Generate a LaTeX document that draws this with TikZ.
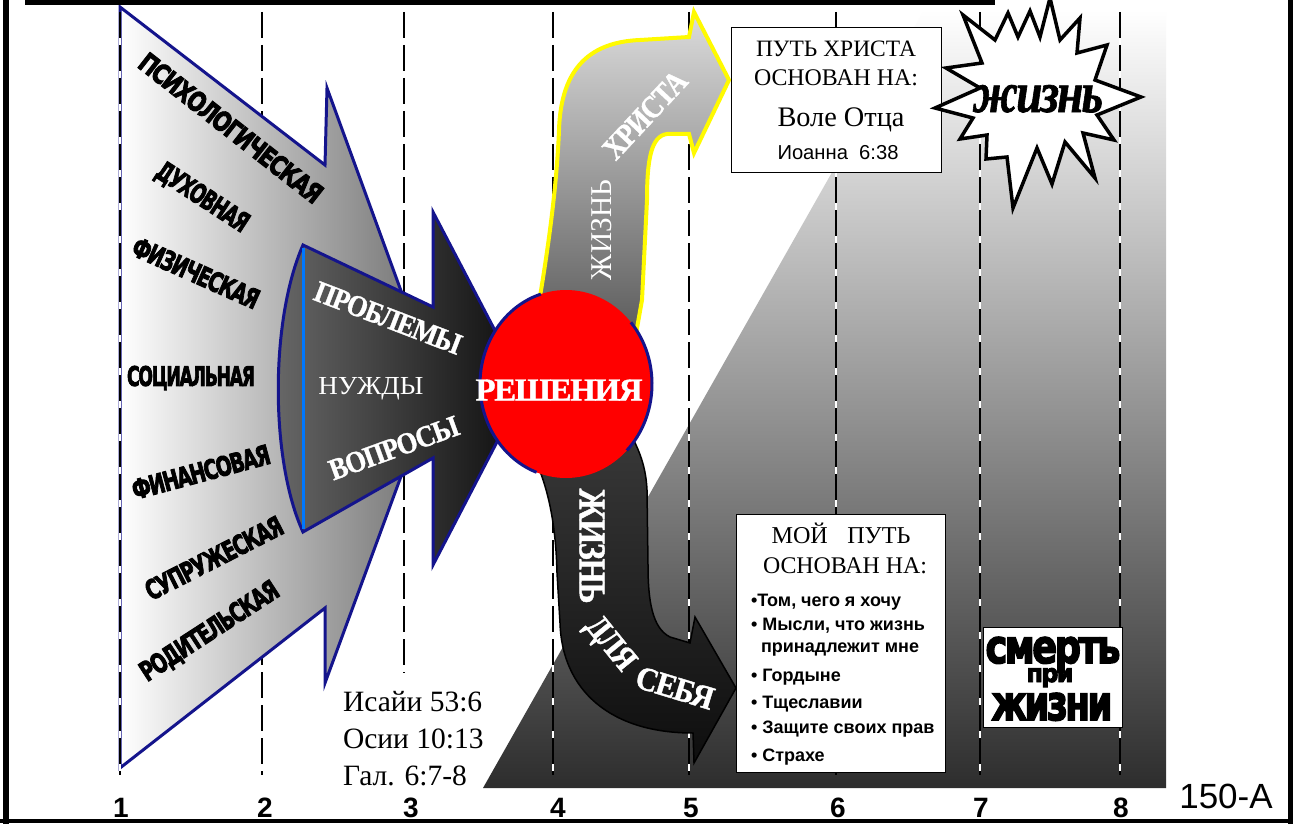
\documentclass[tikz,border=0pt]{standalone}
\usepackage{fontspec}
\usepackage{graphicx}
\setmainfont{Liberation Serif}
\newfontfamily\sansf{Liberation Sans}
\newfontfamily\heavyf{DejaVu Sans}[FakeBold=3.5,LetterSpace=-7]
\newfontfamily\serifhv{Liberation Serif}[FakeBold=1.2,LetterSpace=-4]
\definecolor{navyb}{RGB}{20,20,140}
\definecolor{skyb}{RGB}{0,120,255}
\definecolor{ylw}{RGB}{255,250,0}
\definecolor{gA}{RGB}{170,170,170}
\definecolor{gB}{RGB}{45,45,45}
\definecolor{lgR}{RGB}{110,110,110}
\definecolor{dkL}{RGB}{105,105,105}
\definecolor{dkR}{RGB}{12,12,12}
\definecolor{ubT}{RGB}{220,220,220}
\definecolor{ubB}{RGB}{85,85,85}
\definecolor{lbT}{RGB}{58,58,58}
\definecolor{lbB}{RGB}{14,14,14}
\newcommand\hvtext[3]{\resizebox{#1pt}{#2pt}{\heavyf\bfseries #3}}
\newcommand\fitw[2]{\resizebox{#1pt}{!}{#2}}
\newcommand\sfit[3]{\resizebox{#1pt}{#2pt}{\serifhv\bfseries #3}}
\newcommand\bul{\sansf\bfseries\fontsize{18}{18}\selectfont}
\begin{document}
\begin{tikzpicture}[x=1pt,y=-1pt,
  lbl/.style={inner sep=0pt, outer sep=0pt},
  navyline/.style={draw=navyb, line width=3pt, line join=miter, miter limit=20},
  dashln/.style={line width=2.5pt, dash pattern=on 26pt off 7pt},
  boxst/.style={draw=black, line width=0.8pt, fill=white},
  whitetxt/.style={lbl, text=white}]
\useasboundingbox (0,0) rectangle (1298,824);
\fill[white] (0,0) rectangle (1298,824);
% gray background region
\shade[top color=white, middle color=gA, bottom color=gB]
  (483,788) -- (924,10) -- (1166,10) -- (1166,788) -- cycle;
% dashed lines
\foreach \x/\e in {262/775,404/673,553/775,689/775,836/775,980/775,1120/775}{
  \draw[white, line width=2.5pt] (\x,12) -- (\x,\e);
  \draw[dashln] (\x,12) -- (\x,\e);
}
% light arrow
\shade[left color=white, right color=lgR]
  (120,7) -- (325,165) -- (327,88) -- (435,384) -- (325,683) -- (325,608) -- (120,768) -- cycle;
\draw[navyline]
  (120,7) -- (325,165) -- (327,88) -- (435,384) -- (325,683) -- (325,608) -- (120,768) -- cycle;
\draw[white, line width=2.5pt] (120,12) -- (120,775);
\draw[dashln] (120,12) -- (120,775);
% dark arrow
\shade[left color=dkL, right color=dkR]
  (303,245) -- (433,307) -- (433,212) -- (525,388) -- (433,565) -- (433,458) -- (303,532)
  .. controls (270,460) and (270,320) .. (303,245) -- cycle;
\draw[navyline]
  (303,245) -- (433,307) -- (433,212) -- (525,388) -- (433,565) -- (433,458) -- (303,532)
  .. controls (270,460) and (270,320) .. (303,245) -- cycle;
\draw[skyb, line width=3pt] (303,248) -- (303,529);
% upper band
\shade[top color=ubT, bottom color=ubB, draw=ylw, line width=4pt, line join=miter]
  (536,320) .. controls (550,240) and (557,180) .. (559,130)
  .. controls (561,66) and (592,42) .. (640,40) -- (689,37)
  -- (694,12) -- (729,80) -- (694,153) -- (689,134) -- (667,134)
  .. controls (651,136) and (647,160) .. (647,200) -- (642,300) -- (634,345)
  -- (586,352) -- cycle;
% lower band
\shade[top color=lbT, bottom color=lbB, draw=black, line width=1.5pt, line join=miter]
  (533,455) .. controls (550,490) and (556,530) .. (557,573) -- (560,623)
  .. controls (562,690) and (610,733) .. (693,733)
  -- (694,763) -- (736,688) -- (695,617) -- (690,643) -- (670,637)
  .. controls (652,628) and (648,600) .. (648,565) -- (647,490)
  .. controls (646,468) and (640,450) .. (628,430) -- (580,420) -- cycle;
% red circle
\fill[red] (566,384) ellipse [x radius=86, y radius=94];
\draw[navyb, line width=3pt] (566,384) ++(-107:86 and 94)
  arc[start angle=-107, end angle=-250, x radius=86, y radius=94];
\draw[navyb, line width=3pt] (566,384) ++(45:86 and 94)
  arc[start angle=45, end angle=-41, x radius=86, y radius=94];
% boxes
\draw[boxst] (731,27) rectangle (941,172);
\draw[boxst] (736,514) rectangle (945,772);
\draw[boxst] (983,627) rectangle (1122,727);
% star burst
\filldraw[fill=white, draw=black, line width=3.5pt, line join=miter, miter limit=20]
  (935,108) -- (980,88) -- (946,68) -- (982,63) -- (963,15) -- (995,40) -- (1008,13)
  -- (1018,37) -- (1030,11) -- (1040,37) -- (1050,-2) -- (1060,40) -- (1080,18)
  -- (1077,53) -- (1107,45) -- (1095,80) -- (1141,97) -- (1097,115) -- (1114,140)
  -- (1083,133) -- (1095,178) -- (1065,142) -- (1052,184) -- (1037,148) -- (1013,208)
  -- (1007,157) -- (986,159) -- (987,135) -- (960,139) -- (973,118) -- cycle;
% frame
\draw[line width=6pt] (6,0) -- (6,824);
\draw[line width=5pt] (25,2.5) -- (995,2.5);
\draw[line width=4pt] (0,821) -- (1293,821);
\draw[line width=5pt] (1290,0) -- (1290,824);
% heavy labels on light arrow
\node[lbl, rotate=-38] (psy) at (231,128) {\hvtext{225}{20}{ПСИХОЛОГИЧЕСКАЯ}};
\node[lbl, rotate=-33] (dukh) at (202,198) {\hvtext{105}{20}{ДУХОВНАЯ}};
\node[lbl, rotate=-24] (fiz) at (196,273) {\hvtext{136}{20}{ФИЗИЧЕСКАЯ}};
\node[lbl] (soc) at (191,378) {\hvtext{128}{20}{СОЦИАЛЬНАЯ}};
\node[lbl, rotate=15] (fin) at (201,472) {\hvtext{142}{20}{ФИНАНСОВАЯ}};
\node[lbl, rotate=27] (supr) at (214,558) {\hvtext{151}{20}{СУПРУЖЕСКАЯ}};
\node[lbl, rotate=33] (rod) at (210,632) {\hvtext{160}{20}{РОДИТЕЛЬСКАЯ}};
% dark arrow labels
\node[whitetxt, rotate=-21] (probl) at (388,318) {\sfit{155}{20}{ПРОБЛЕМЫ}};
\node[whitetxt] (nuzh) at (371,389) {\resizebox{105pt}{17pt}{НУЖДЫ}};
\node[whitetxt, rotate=20] (vopr) at (394,448) {\sfit{136}{20}{ВОПРОСЫ}};
\node[whitetxt] (resh) at (559,390) {\sfit{167}{21}{РЕШЕНИЯ}};
% band labels
\node[whitetxt, rotate=90] (zh1) at (602,230) {\resizebox{100pt}{20pt}{ЖИЗНЬ}};
\node[whitetxt, rotate=47] (khr) at (645,115) {\sfit{108}{21}{ХРИСТА}};
\node[whitetxt, rotate=-90] (zh2) at (592,546) {\sfit{115}{25}{ЖИЗНЬ}};
\node[whitetxt, rotate=-51] (dlya) at (609,645) {\sfit{60}{22}{ДЛЯ}};
\node[whitetxt, rotate=-17] (sebya) at (675,688) {\sfit{80}{22}{СЕБЯ}};
% box 1 text
\node[lbl, anchor=base] (p1) at (836,57) {\fitw{160}{ПУТЬ ХРИСТА}};
\node[lbl, anchor=base] (p2) at (836,86) {\fitw{164}{ОСНОВАН НА:}};
\node[lbl, anchor=base] (p3) at (841,127) {\fitw{127}{Воле Отца}};
\node[lbl, anchor=base] (p4) at (838,160) {\fitw{121}{\sansf Иоанна\ \ 6:38}};
% star text
\node[lbl, anchor=base] (zhizn) at (1038,112) {\resizebox{130pt}{27pt}{\serifhv\bfseries\itshape жизнь}};
% box 2 text
\node[lbl, anchor=base] (m1) at (841,543) {\fitw{139}{МОЙ\hspace{0.8em}ПУТЬ}};
\node[lbl, anchor=base] (m2) at (845,573) {\fitw{164}{ОСНОВАН НА:}};
\node[lbl, anchor=base west] (b1) at (751,606) {\bul •Том, чего я хочу};
\node[lbl, anchor=base west] (b2) at (751,630) {\bul • Мысли, что жизнь};
\node[lbl, anchor=base west] (b3) at (761,652) {\bul принадлежит мне};
\node[lbl, anchor=base west] (b4) at (751,681) {\bul • Гордыне};
\node[lbl, anchor=base west] (b5) at (751,708) {\bul • Тщеславии};
\node[lbl, anchor=base west] (b6) at (751,733) {\bul •\ Защите своих прав};
\node[lbl, anchor=base west] (b7) at (751,761) {\bul • Страхе};
% box 3 text
\node[lbl, anchor=base] (s1) at (1053,663) {\hvtext{135}{26}{смерть}};
\node[lbl, anchor=base] (s2) at (1050,682) {\hvtext{47}{14}{при}};
\node[lbl, anchor=base] (s3) at (1052,720) {\hvtext{121}{27}{жизни}};
% references
\node[lbl, anchor=base west] (r1) at (343,711) {\fontsize{29.5}{30}\selectfont Исайи 53:6};
\node[lbl, anchor=base west] (r2) at (343,748) {\fontsize{29.5}{30}\selectfont Осии 10:13};
\node[lbl, anchor=base west] (r3) at (343,785) {\fontsize{29.5}{30}\selectfont Гал. 6:7-8};
% numbers
\foreach \x/\n in {121/1,265/2,411/3,558/4,691/5,838/6,981/7,1121/8}{
  \node[lbl, anchor=base] (num\n) at (\x,817) {\sansf\bfseries\fontsize{28}{28}\selectfont \n};
}
\node[lbl, anchor=base] (code) at (1226,808) {\sansf\fontsize{35}{35}\selectfont 150-A};
\end{tikzpicture}
\end{document}
